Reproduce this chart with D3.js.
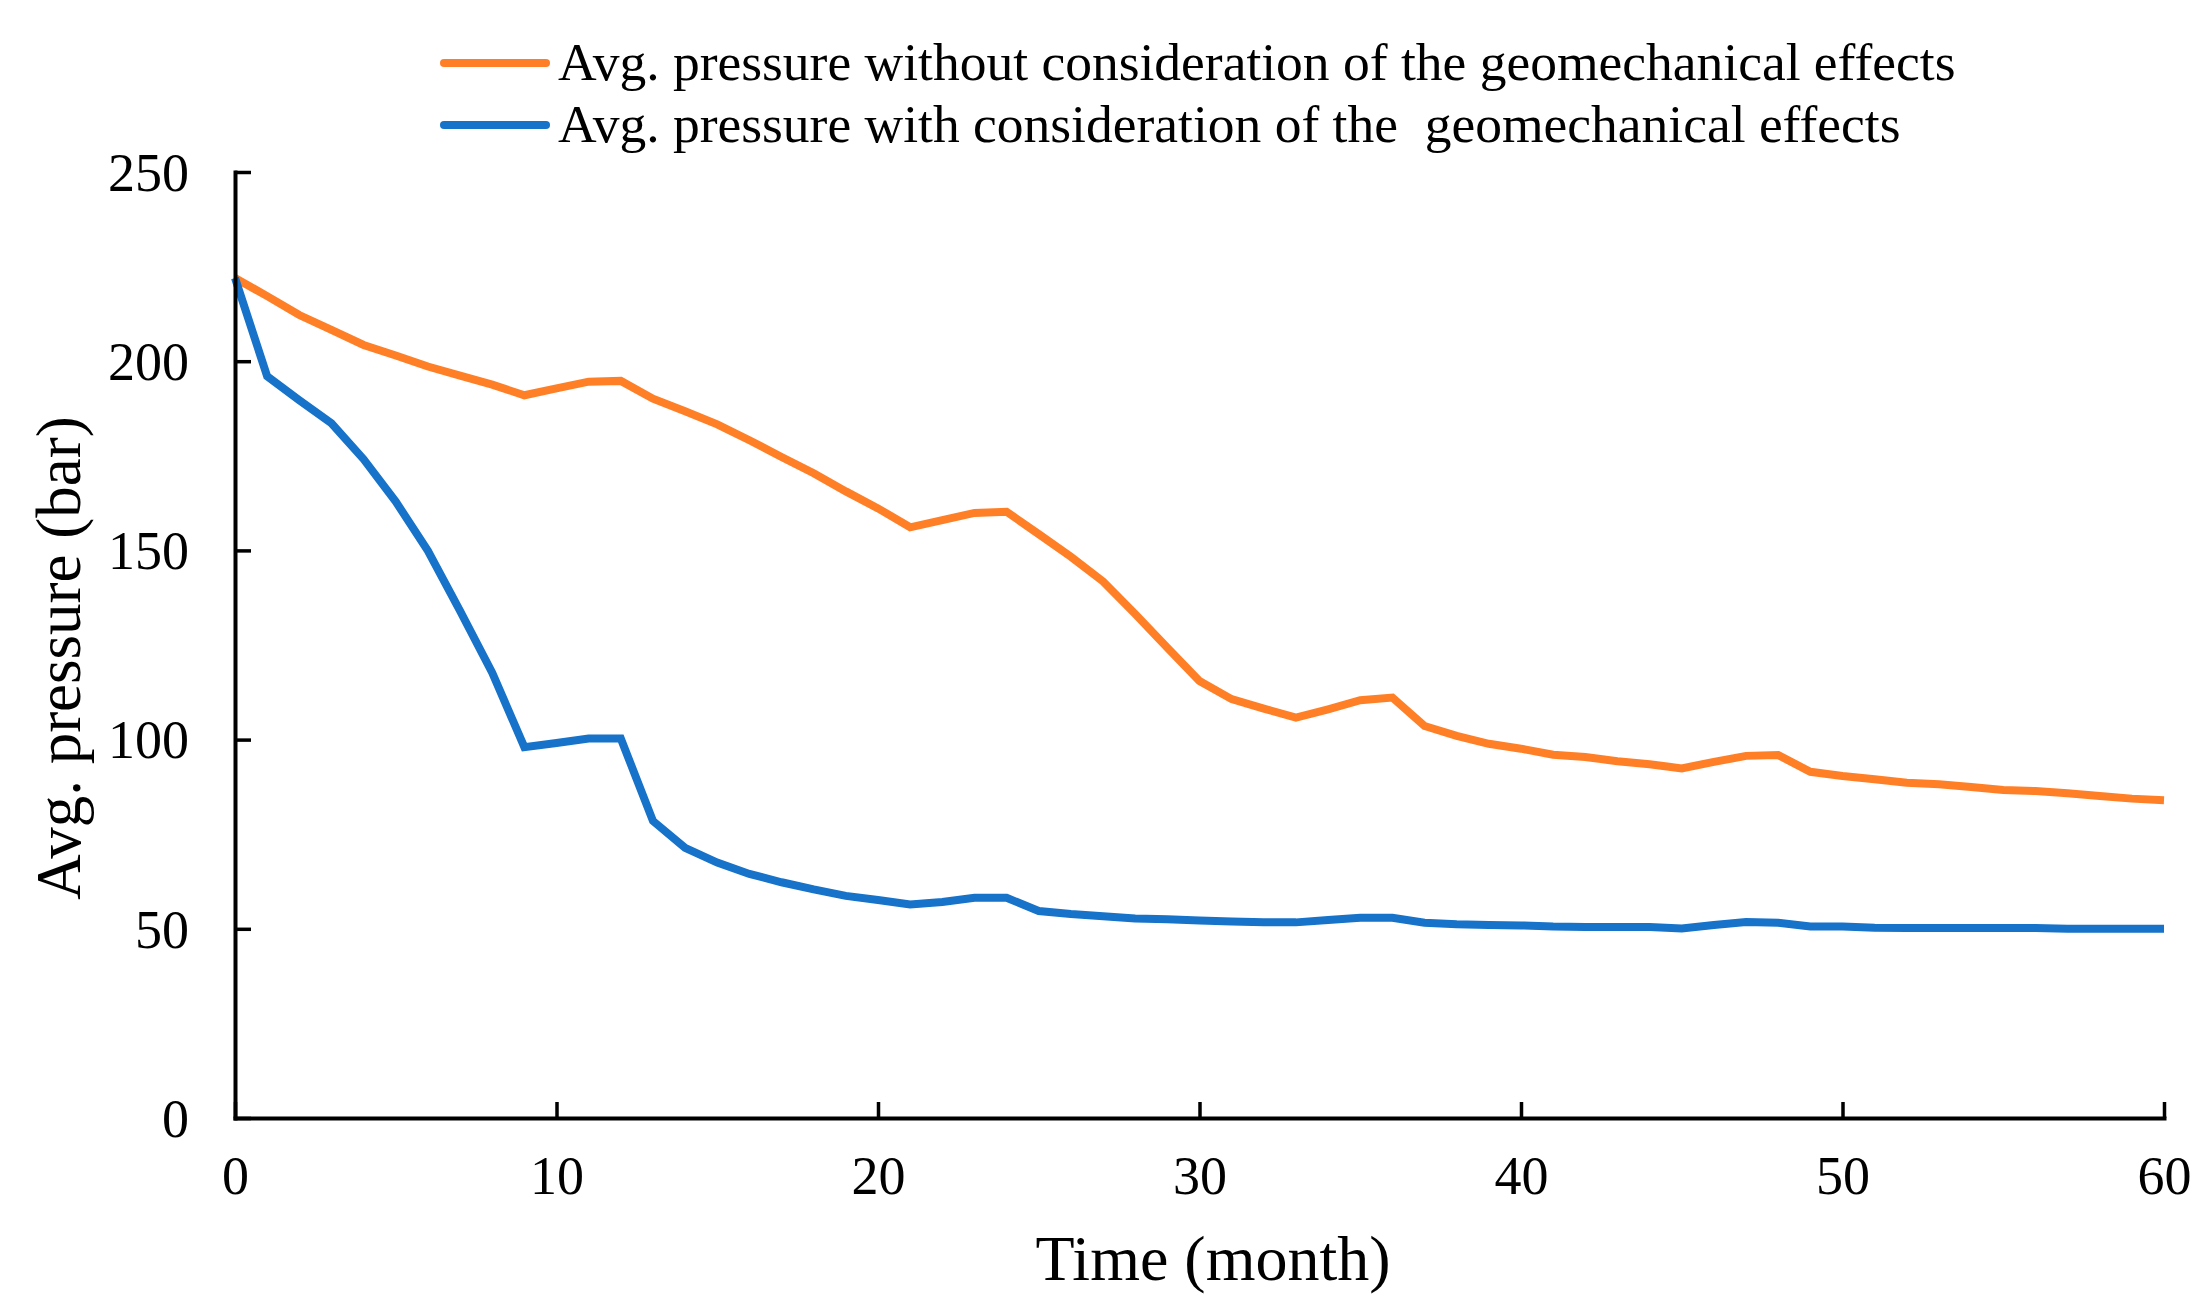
<!DOCTYPE html>
<html>
<head>
<meta charset="utf-8">
<script src="https://cdn.jsdelivr.net/npm/d3@7"></script>
<style>
  html, body { margin: 0; padding: 0; background: #fff; }
  svg { display: block; }
  text { font-family: "Liberation Serif", "Times New Roman", serif; fill: #000; }
</style>
</head>
<body>
<svg id="chart" width="2208" height="1310"></svg>
<script>
const months = [0,1,2,3,4,5,6,7,8,9,10,11,12,13,14,15,16,17,18,19,20,21,22,23,24,25,26,27,28,29,30,
  31,32,33,34,35,36,37,38,39,40,41,42,43,44,45,46,47,48,49,50,51,52,53,54,55,56,57,58,59,60];
const pressureWithout = [222.0,217.2,212.2,208.3,204.3,201.5,198.6,196.2,193.8,191.0,192.8,194.6,194.8,190.1,186.8,
  183.3,179.1,174.7,170.4,165.6,161.1,156.1,158.0,159.9,160.2,154.3,148.3,141.8,133.2,124.3,115.5,
  110.7,108.2,105.8,108.0,110.4,111.1,103.6,101.0,98.9,97.6,96.0,95.4,94.3,93.5,92.4,94.1,95.7,95.9,
  91.5,90.4,89.5,88.6,88.2,87.5,86.7,86.4,85.8,85.1,84.4,84.0];
const pressureWith = [222.0,196.0,189.7,183.6,174.1,162.9,149.9,134.0,117.7,98.0,99.1,100.3,100.3,78.5,71.4,
  67.5,64.5,62.3,60.4,58.7,57.6,56.4,57.1,58.2,58.2,54.7,53.9,53.3,52.7,52.5,52.2,
  51.9,51.7,51.7,52.3,52.9,52.9,51.6,51.2,51.0,50.9,50.6,50.5,50.5,50.5,50.1,51.0,51.8,51.6,
  50.6,50.6,50.3,50.2,50.2,50.2,50.2,50.2,50.0,50.0,50.0,50.0];
const xTicks = [0,10,20,30,40,50,60];
const yTicks = [0,50,100,150,200,250];
const seriesNames = ["Avg. pressure without consideration of the geomechanical effects",
  "Avg. pressure with consideration of the  geomechanical effects"];
const seriesColors = ["#FF7F27", "#1772C9"];
const xTitle = "Time (month)";
const yTitle = "Avg. pressure (bar)";

const svg = d3.select("#chart");
const x = d3.scaleLinear().domain([0, 60]).range([235, 2164]);
const y = d3.scaleLinear().domain([0, 250]).range([1118, 172]);

// lines
const line = d3.line().x((d, i) => x(months[i])).y(d => y(d));
[pressureWithout, pressureWith].forEach((s, k) => {
  svg.append("path").datum(s)
    .attr("d", line)
    .attr("fill", "none")
    .attr("stroke", seriesColors[k])
    .attr("stroke-width", 8)
    .attr("stroke-linejoin", "miter")
    .attr("stroke-miterlimit", 3);
});

// axes
const xAxis = d3.axisBottom(x).tickValues(xTicks).tickSizeInner(-16).tickSizeOuter(0).tickPadding(38);
const yAxis = d3.axisLeft(y).tickValues(yTicks).tickSizeInner(-16).tickSizeOuter(0).tickPadding(46);
const gx = svg.append("g").attr("transform", "translate(0,1118)").call(xAxis);
const gy = svg.append("g").attr("transform", "translate(235,0)").call(yAxis);
[gx, gy].forEach(g => {
  g.select(".domain").attr("stroke", "#000").attr("stroke-width", 4).attr("stroke-linecap", "square");
  g.selectAll(".tick line").attr("stroke", "#000").attr("stroke-width", 3.5);
  g.selectAll(".tick text").attr("font-size", 54).attr("font-family", "Liberation Serif").attr("fill", "#000");
});
gy.selectAll(".tick text").attr("dy", "0.34em");

// axis titles
svg.append("text").attr("x", 1213).attr("y", 1280).attr("text-anchor", "middle")
  .attr("font-size", 64).text(xTitle);
svg.append("text").attr("transform", "translate(80,658) rotate(-90)").attr("text-anchor", "middle")
  .attr("font-size", 63).text(yTitle);

// legend
const legY = [63, 125];
seriesNames.forEach((name, k) => {
  svg.append("line").attr("x1", 444).attr("x2", 546).attr("y1", legY[k]).attr("y2", legY[k])
    .attr("stroke", seriesColors[k]).attr("stroke-width", 8).attr("stroke-linecap", "round");
  svg.append("text").attr("x", 558).attr("y", legY[k] + 17).attr("font-size", 53.5)
    .style("white-space", "pre").text(name);
});
</script>
</body>
</html>
